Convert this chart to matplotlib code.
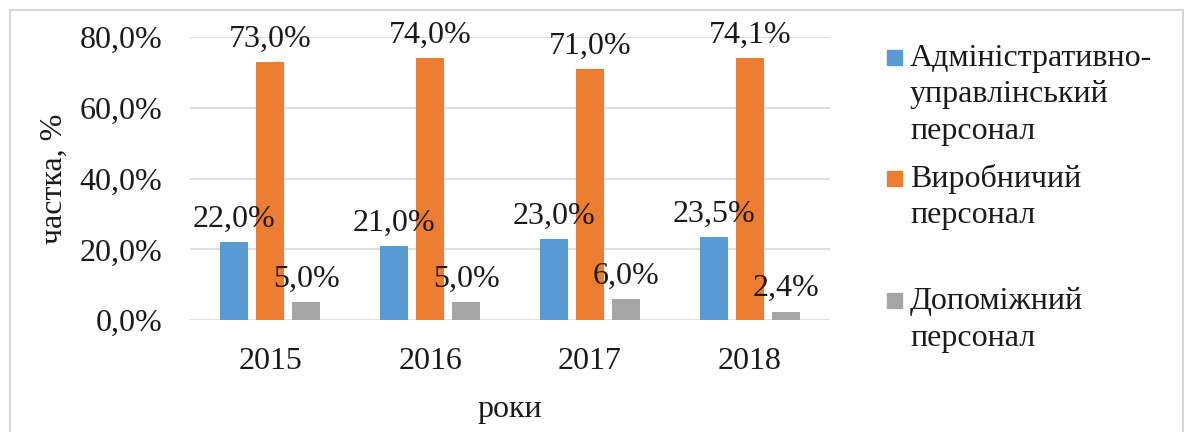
import numpy as np
import matplotlib.pyplot as plt
from matplotlib.patches import Rectangle
from matplotlib.ticker import FuncFormatter

plt.rcParams['font.family'] = ['Liberation Serif', 'DejaVu Serif']

years = ["2015", "2016", "2017", "2018"]
series = ["Адміністративно-\nуправлінський\nперсонал",
          "Виробничий\nперсонал",
          "Допоміжний\nперсонал"]
admin = [22.0, 21.0, 23.0, 23.5]
production = [73.0, 74.0, 71.0, 74.1]
auxiliary = [5.0, 5.0, 6.0, 2.4]
values = [admin, production, auxiliary]
colors = ["#5B9BD5", "#ED7D31", "#A5A5A5"]

FS = 23
TXT = "#1a1a1a"

fig = plt.figure(figsize=(11.89, 4.32), dpi=100)
ax = fig.add_axes([0.160, 0.259, 0.538, 0.655])

x = np.arange(len(years))
w = 0.175
offsets = [-0.225, 0.0, 0.225]
for vals, off, col in zip(values, offsets, colors):
    bars = ax.bar(x + off, vals, w, color=col, zorder=2)
    for b, v in zip(bars, vals):
        ax.annotate(f"{v:.1f}%".replace(".", ","),
                    (b.get_x() + b.get_width() / 2, v),
                    xytext=(0, 6), textcoords="offset points",
                    ha="center", va="bottom", fontsize=FS, color=TXT)

ax.set_xlim(-0.5, len(years) - 0.5)
ax.set_ylim(0, 80)
ax.set_yticks([0, 20, 40, 60, 80])
ax.yaxis.set_major_formatter(FuncFormatter(lambda v, p: f"{v:.1f}%".replace(".", ",")))
ax.set_xticks(x)
ax.set_xticklabels(years)
ax.grid(axis="y", color="#d9d9d9", lw=1.2, zorder=0)
for s in ax.spines.values():
    s.set_visible(False)
ax.tick_params(axis="both", length=0, labelsize=FS, colors=TXT)
ax.tick_params(axis="y", pad=20)
ax.tick_params(axis="x", pad=19)
ax.set_ylabel("частка, %", fontsize=FS, color=TXT, labelpad=8)
ax.set_xlabel("роки", fontsize=FS, color=TXT, labelpad=14)

# legend
sq_y = [0.850, 0.569, 0.287]
txt_top = [0.899, 0.621, 0.336]
for name, col, sy, ty in zip(series, colors, sq_y, txt_top):
    fig.patches.append(Rectangle((887 / 1189, sy), 15 / 1189, 15 / 432,
                                 transform=fig.transFigure, color=col))
    fig.text(910 / 1189, ty, name, fontsize=FS, color=TXT,
             va="top", ha="left", linespacing=1.35)

fig.patches.append(Rectangle((10 / 1189, -0.05), 1173 / 1189, 1.05 - 10 / 432,
                             transform=fig.transFigure, fill=False,
                             edgecolor="#d9d9d9", lw=1.5))

fig.savefig("out.png", dpi=100)
